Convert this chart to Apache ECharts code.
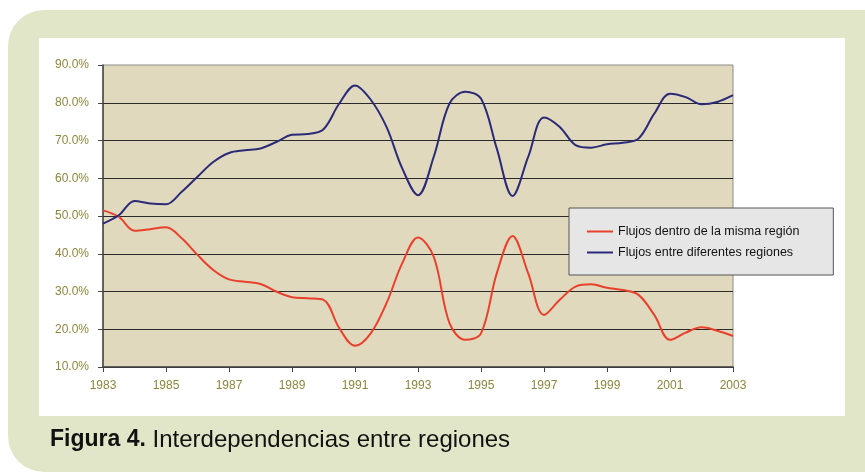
<!DOCTYPE html>
<html>
<head>
<meta charset="utf-8">
<script src="https://cdn.jsdelivr.net/npm/echarts@6/dist/echarts.min.js"></script>
<style>
  html, body { margin: 0; padding: 0; background: #fff; }
  #chart { width: 865px; height: 474px; }
</style>
</head>
<body>
<div id="chart"></div>
<script>
// half-year steps, labels shown on odd years only
var periods = ['1983', '1983.5', '1984', '1984.5', '1985', '1985.5', '1986', '1986.5', '1987', '1987.5',
  '1988', '1988.5', '1989', '1989.5', '1990', '1990.5', '1991', '1991.5', '1992', '1992.5',
  '1993', '1993.5', '1994', '1994.5', '1995', '1995.5', '1996', '1996.5', '1997', '1997.5',
  '1998', '1998.5', '1999', '1999.5', '2000', '2000.5', '2001', '2001.5', '2002', '2002.5', '2003']

// Flujos dentro de la misma región (%)
var dentro = [51.5, 49.8, 46.1, 46.5, 47.0, 44.1, 39.7, 35.7, 33.2, 32.6,
  32.0, 30.0, 28.5, 28.2, 27.8, 20.3, 15.6, 18.9, 26.9, 37.5,
  44.3, 39.2, 21.6, 17.2, 18.9, 34.8, 44.7, 34.8, 23.8, 27.8,
  31.3, 31.9, 31.0, 30.4, 29.1, 23.8, 17.2, 19.1, 20.5, 19.6, 18.2]

// Flujos entre diferentes regiones (%)
var entre = [48.0, 50.2, 54.0, 53.3, 53.1, 56.4, 60.4, 64.3, 66.7, 67.4,
  67.9, 69.6, 71.5, 71.7, 73.0, 79.8, 84.6, 80.8, 73.6, 62.6,
  55.5, 65.7, 79.8, 82.9, 81.1, 67.9, 55.3, 65.7, 76.1, 73.6,
  68.8, 68.1, 69.0, 69.4, 70.5, 77.1, 82.4, 81.5, 79.6, 80.2, 82.0]

var seriesNames = ['Flujos dentro de la misma región', 'Flujos entre diferentes regiones']
var caption = 'Interdependencias entre regiones'

var labelColor = '#8c873c'
var fontFamily = '"Liberation Sans", Arial, sans-serif'

var chart = echarts.init(document.getElementById('chart'))
var options = {
  backgroundColor: '#fff',
  animation: false,
  textStyle: { fontFamily: fontFamily },
  graphic: [
    // marco verde
    {
      type: 'rect', z: -100, silent: true,
      shape: { x: 8, y: 10, width: 900, height: 462, r: 36 },
      style: { fill: '#e0e6c7' }
    },
    // panel blanco
    {
      type: 'rect', z: -90, silent: true,
      shape: { x: 39, y: 38, width: 806, height: 378 },
      style: { fill: '#fff' }
    },
    {
      type: 'text', left: 50, top: 428, z: 100,
      style: {
        text: '{b|Figura 4.} ' + caption,
        fontFamily: fontFamily,
        fontSize: 24,
        fill: '#111',
        rich: {
          b: { fontWeight: 'bold', fontSize: 23, fontFamily: fontFamily, fill: '#111' }
        }
      }
    }
  ],
  grid: {
    left: 103,
    right: 132,
    top: 65,
    bottom: 107,
    show: true,
    backgroundColor: '#e1d9bd',
    borderColor: '#8a8a8a',
    borderWidth: 1,
    outerBoundsMode: 'none'
  },
  legend: {
    orient: 'vertical',
    left: 569,
    top: 208,
    padding: [17, 34, 16, 18],
    backgroundColor: '#e6e6e6',
    borderColor: '#555',
    borderWidth: 1,
    icon: 'rect',
    itemWidth: 26,
    itemHeight: 2,
    itemGap: 8,
    textStyle: { fontSize: 12.5, color: '#111', fontFamily: fontFamily },
    data: seriesNames
  },
  xAxis: {
    type: 'category',
    data: periods,
    boundaryGap: false,
    axisLine: { lineStyle: { color: '#444', width: 1.5 } },
    axisTick: { interval: 3, length: 5, lineStyle: { color: '#444' } },
    axisLabel: { interval: 3, margin: 13, fontSize: 12, color: labelColor },
    splitLine: { show: false }
  },
  yAxis: {
    type: 'value',
    min: 10,
    max: 90,
    interval: 10,
    axisLine: { show: true, lineStyle: { color: '#444', width: 1.5 } },
    axisTick: { show: true, length: 5, lineStyle: { color: '#444' } },
    axisLabel: {
      margin: 14,
      fontSize: 12,
      color: labelColor,
      formatter: function (v) { return v.toFixed(1) + '%' }
    },
    splitLine: { show: true, showMaxLine: false, lineStyle: { color: '#2a2a2a', width: 1 } }
  },
  series: [
    {
      name: seriesNames[0],
      type: 'line',
      data: dentro,
      smooth: 0.35,
      symbol: 'none',
      lineStyle: { color: '#e8402c', width: 2 },
      itemStyle: { color: '#e8402c' }
    },
    {
      name: seriesNames[1],
      type: 'line',
      data: entre,
      smooth: 0.35,
      symbol: 'none',
      lineStyle: { color: '#2a2a78', width: 2 },
      itemStyle: { color: '#2a2a78' }
    }
  ]
}
chart.setOption(options)
</script>
</body>
</html>
